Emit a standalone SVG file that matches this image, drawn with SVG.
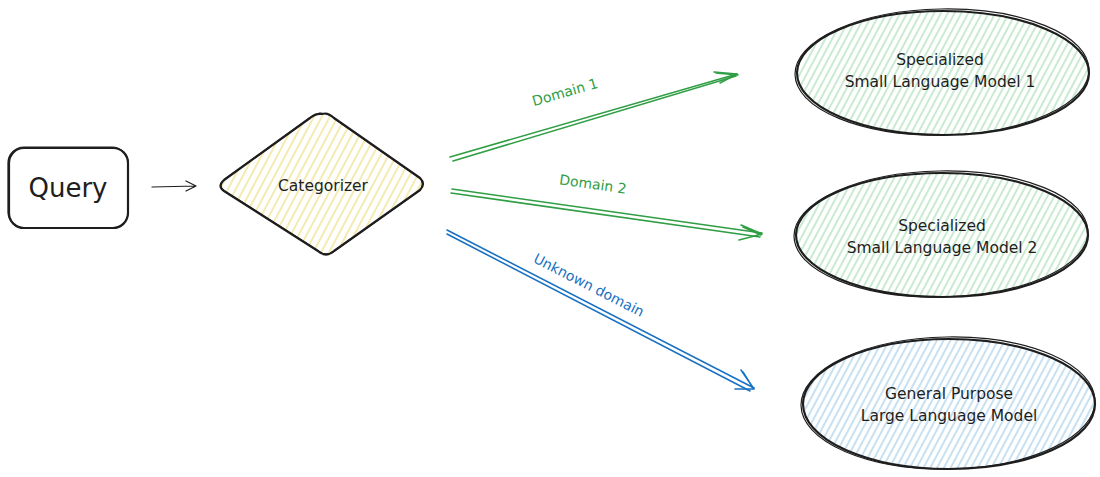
<svg xmlns="http://www.w3.org/2000/svg" width="1100" height="477" viewBox="0 0 1100 477">
<style>
.txt{font-family:"DejaVu Sans","Liberation Sans",sans-serif;fill:#1e1e1e;text-anchor:middle;dominant-baseline:central}
.ink{fill:none;stroke:#1e1e1e;stroke-width:2.2;stroke-linecap:round;stroke-linejoin:round}
.ink2{fill:none;stroke:#1e1e1e;stroke-width:1.2;stroke-linecap:round;stroke-linejoin:round}
.green{fill:none;stroke:#2f9e44;stroke-width:1.6;stroke-linecap:round;stroke-linejoin:round}
.blue{fill:none;stroke:#1971c2;stroke-width:1.6;stroke-linecap:round;stroke-linejoin:round}
.lg{font-family:"DejaVu Sans","Liberation Sans",sans-serif;font-size:14px;fill:#2f9e44;text-anchor:middle;dominant-baseline:central}
.lb{font-family:"DejaVu Sans","Liberation Sans",sans-serif;font-size:14px;fill:#1971c2;text-anchor:middle;dominant-baseline:central}
</style>
<defs>
<pattern id="hy" width="7" height="7" patternUnits="userSpaceOnUse" patternTransform="rotate(28)">
<line x1="3" y1="0" x2="3" y2="7" stroke="#ecd86f" stroke-width="1.1"/>
</pattern>
<pattern id="hg" width="6" height="6" patternUnits="userSpaceOnUse" patternTransform="rotate(28)">
<line x1="3" y1="0" x2="3" y2="6" stroke="#93d6a3" stroke-width="1"/>
</pattern>
<pattern id="hb" width="6" height="6" patternUnits="userSpaceOnUse" patternTransform="rotate(28)">
<line x1="3" y1="0" x2="3" y2="6" stroke="#8fc2e6" stroke-width="1"/>
</pattern>
</defs>
<rect width="1100" height="477" fill="#ffffff"/>

<g id="query">
<rect x="9" y="148" width="119" height="80" rx="15" class="ink"/>
<rect x="8" y="147" width="120" height="81" rx="16" class="ink2"/>
<text x="68" y="188" class="txt" font-size="26">Query</text>
</g>

<g id="categorizer">
<path d="M322 114 Q328 112 334 118 L420 178 Q426 184 420 190 L334 251 Q326 258 318 251 L224 191 Q217 186 224 180 L310 118 Q316 113 322 114 Z" fill="url(#hy)"/>
<path d="M322 114 Q328 112 334 118 L420 178 Q426 184 420 190 L334 251 Q326 258 318 251 L224 191 Q217 186 224 180 L310 118 Q316 113 322 114 Z" class="ink"/>
<path d="M320 113 Q327 113 335 119 L421 179 Q425 185 419 191 L333 252 Q325 257 317 250 L223 190 Q218 185 225 179 L311 117 Q316 114 320 113 Z" class="ink2"/>
<text x="323" y="186" class="txt" font-size="15.5">Categorizer</text>
</g>

<g id="slm1">
<ellipse cx="943" cy="73" rx="146" ry="62" fill="url(#hg)"/>
<ellipse cx="943" cy="73" rx="146" ry="62" class="ink"/>
<ellipse cx="942" cy="72" rx="147" ry="63" class="ink2" transform="rotate(-1 942 72)"/>
<text x="940" y="60" class="txt" font-size="15.5">Specialized</text>
<text x="940" y="82" class="txt" font-size="15.5">Small Language Model 1</text>
</g>

<g id="slm2">
<ellipse cx="942" cy="235" rx="146" ry="62" fill="url(#hg)"/>
<ellipse cx="942" cy="235" rx="146" ry="62" class="ink"/>
<ellipse cx="941" cy="234" rx="147" ry="63" class="ink2" transform="rotate(-1 941 234)"/>
<text x="942" y="226" class="txt" font-size="15.5">Specialized</text>
<text x="942" y="248" class="txt" font-size="15.5">Small Language Model 2</text>
</g>

<g id="llm">
<ellipse cx="949" cy="404" rx="146" ry="65" fill="url(#hb)"/>
<ellipse cx="949" cy="404" rx="146" ry="65" class="ink"/>
<ellipse cx="948" cy="403" rx="147" ry="66" class="ink2" transform="rotate(-1 948 403)"/>
<text x="949" y="394" class="txt" font-size="15.5">General Purpose</text>
<text x="949" y="416" class="txt" font-size="15.5">Large Language Model</text>
</g>

<g id="connectors">
<path d="M152 187 L196 186 M186 181 L196 186 L186 191" class="ink2" stroke-width="1.4"/>

<path d="M450 157 L737 74 M453 161 L736 76" class="green"/>
<path d="M714 72 L737 74 L720 83 M716 73 L738 75" class="green"/>
<text x="565" y="92" class="lg" transform="rotate(-16 565 92)">Domain 1</text>

<path d="M452 189 L762 233 M451 193 L760 237" class="green"/>
<path d="M741 225 L762 234 L739 240 M743 227 L761 235" class="green"/>
<text x="593" y="184" class="lg" transform="rotate(8 593 184)">Domain 2</text>

<path d="M447 230 L754 388 M447 234 L750 391" class="blue"/>
<path d="M741 370 L754 389 L735 389 M743 372 L753 388" class="blue"/>
<text x="589" y="285" class="lb" transform="rotate(27 589 285)">Unknown domain</text>
</g>
</svg>
